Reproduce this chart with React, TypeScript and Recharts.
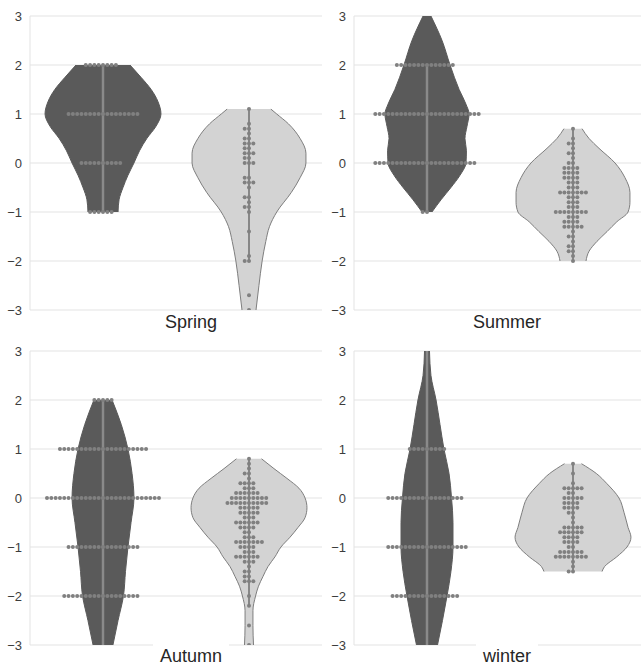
import React from "react";
import { ComposedChart, Area, Scatter, XAxis, YAxis, CartesianGrid, ReferenceLine } from "recharts";

const FONT = "'Liberation Sans', Arial, sans-serif";
const yTicks = [-3, -2, -1, 0, 1, 2, 3];

// violin outlines: value levels and half width (x units, one slot = 1)
const springDarkY = [2, 1.75, 1.5, 1.25, 1, 0.75, 0.5, 0.25, 0, -0.25, -0.5, -0.75, -1];
const springDarkW = [0.185, 0.26, 0.33, 0.377, 0.397, 0.363, 0.3, 0.25, 0.212, 0.171, 0.137, 0.11, 0.103];
const springLightY = [1.1, 1, 0.8, 0.5, 0.2, 0, -0.3, -0.6, -1, -1.3, -1.6, -2, -2.5, -3];
const springLightW = [0.15, 0.19, 0.27, 0.35, 0.39, 0.39, 0.35, 0.29, 0.19, 0.14, 0.115, 0.09, 0.068, 0.048];

const summerDarkY = [3, 2.5, 2, 1.5, 1.2, 1, 0.75, 0.5, 0.25, 0, -0.25, -0.5, -0.75, -1];
const summerDarkW = [0.027, 0.103, 0.158, 0.22, 0.267, 0.288, 0.274, 0.26, 0.27, 0.267, 0.226, 0.164, 0.096, 0.034];
const summerLightY = [0.7, 0.5, 0.3, 0, -0.3, -0.6, -0.8, -1, -1.2, -1.4, -1.6, -1.8, -2];
const summerLightW = [0.062, 0.11, 0.178, 0.288, 0.356, 0.39, 0.39, 0.377, 0.3, 0.233, 0.164, 0.11, 0.089];

const autumnDarkY = [2, 1.5, 1, 0.5, 0, -0.5, -1, -1.5, -2, -2.5, -3];
const autumnDarkW = [0.062, 0.125, 0.171, 0.199, 0.212, 0.192, 0.171, 0.154, 0.14, 0.103, 0.068];
const autumnLightY = [0.8, 0.6, 0.4, 0.2, 0, -0.2, -0.4, -0.6, -0.8, -1, -1.2, -1.4, -1.6, -1.8, -2, -2.3, -2.6, -3];
const autumnLightW = [0.086, 0.171, 0.26, 0.342, 0.384, 0.397, 0.384, 0.336, 0.281, 0.219, 0.178, 0.13, 0.096, 0.065, 0.045, 0.027, 0.027, 0.031];

const winterDarkY = [3, 2.5, 2, 1.5, 1, 0.5, 0, -0.5, -1, -1.5, -2, -2.5, -3];
const winterDarkW = [0.017, 0.027, 0.062, 0.089, 0.116, 0.151, 0.168, 0.178, 0.178, 0.164, 0.137, 0.106, 0.072];
const winterLightY = [0.7, 0.5, 0.3, 0, -0.3, -0.6, -0.8, -1, -1.2, -1.4, -1.5];
const winterLightW = [0.058, 0.16, 0.23, 0.315, 0.35, 0.377, 0.397, 0.37, 0.3, 0.216, 0.199];

// swarm points: observed values and how many at each
const springDarkDotY = [2, 1, 0, -1];
const springDarkDotN = [8, 17, 10, 6];
const springLightDotY = [1.1, 0.8, 0.7, 0.6, 0.5, 0.4, 0.3, 0.2, 0.1, 0, -0.3, -0.4, -0.5, -0.7, -0.8, -0.9, -1, -1.4, -1.9, -2, -2.7, -3];
const springLightDotN = [1, 1, 2, 1, 2, 3, 2, 3, 2, 3, 2, 3, 1, 2, 1, 2, 1, 1, 1, 2, 1, 1];

const summerDarkDotY = [2, 1, 0, -1];
const summerDarkDotN = [14, 25, 24, 2];
const summerLightDotY = [0.7, 0.5, 0.4, 0.3, 0.2, 0.1, 0, -0.1, -0.2, -0.3, -0.4, -0.5, -0.6, -0.7, -0.8, -0.9, -1, -1.1, -1.2, -1.3, -1.4, -1.5, -1.6, -1.7, -1.8, -1.9, -2];
const summerLightDotN = [1, 1, 2, 1, 2, 1, 2, 4, 4, 4, 3, 3, 7, 3, 3, 3, 8, 3, 4, 5, 1, 2, 1, 2, 2, 1, 1];

const autumnDarkDotY = [2, 1, 0, -1, -2];
const autumnDarkDotN = [5, 21, 27, 17, 18];
const autumnLightDotY = [0.8, 0.7, 0.6, 0.5, 0.4, 0.3, 0.2, 0.1, 0, -0.1, -0.2, -0.3, -0.4, -0.5, -0.6, -0.7, -0.8, -0.9, -1, -1.1, -1.2, -1.3, -1.4, -1.5, -1.6, -1.7, -2, -2.2, -2.6, -3];
const autumnLightDotN = [1, 1, 1, 2, 1, 4, 3, 6, 9, 10, 5, 5, 3, 6, 4, 2, 3, 7, 4, 3, 6, 3, 1, 2, 2, 3, 1, 1, 1, 1];

const winterDarkDotY = [1, 0, -1, -2];
const winterDarkDotN = [9, 18, 19, 16];
const winterLightDotY = [0.7, 0.5, 0.3, 0.2, 0.1, 0, -0.1, -0.2, -0.3, -0.4, -0.5, -0.6, -0.7, -0.8, -0.9, -1, -1.1, -1.2, -1.3, -1.4, -1.5];
const winterLightDotN = [1, 1, 1, 5, 2, 5, 4, 4, 2, 1, 1, 5, 6, 4, 4, 2, 6, 8, 1, 1, 2];

// inner whisker extents [top, bottom]
const springDarkWhisker = [2, -1];
const springLightWhisker = [1.1, -2];
const summerDarkWhisker = [2, -1];
const summerLightWhisker = [0.7, -2];
const autumnDarkWhisker = [2, -3];
const autumnLightWhisker = [0.8, -2.2];
const winterDarkWhisker = [3, -3];
const winterLightWhisker = [0.7, -1.5];

type Group = { oy: number[]; ow: number[]; dy: number[]; dn: number[]; wh: number[] };

const DOT_STEP = 0.0295;

function outline(g: Group, c: number) {
  return g.oy.map((y, i) => ({ y, r: [c - g.ow[i], c + g.ow[i]] }));
}

function swarm(g: Group, c: number) {
  const pts: { x: number; y: number }[] = [];
  g.dy.forEach((y, i) => {
    for (let j = 0; j < g.dn[i]; j++) {
      const k = j === 0 ? 0 : j % 2 === 1 ? -Math.ceil(j / 2) : j / 2;
      pts.push({ x: c + k * DOT_STEP, y });
    }
  });
  return pts;
}

const dot = (p: any) => <circle cx={p.cx} cy={p.cy} r={2} fill="#808080" />;

function Panel(props: {
  label: string; dark: Group; light: Group; left: number; top: number;
  axisWidth: number; rightPad: number; labelX: number; labelTop: number; labelPad: number;
}) {
  const { label, dark, light, left, top, axisWidth, rightPad, labelX, labelTop, labelPad } = props;
  return (
    <div style={{ position: "absolute", left, top, width: 330, height: 320 }}>
      <ComposedChart layout="vertical" width={330} height={320} margin={{ top: 16, right: rightPad, bottom: 10, left: 0 }}>
        <CartesianGrid horizontal vertical={false} stroke="#e3e3e3" />
        <XAxis type="number" dataKey="x" domain={[0, 2]} hide allowDataOverflow />
        <YAxis
          type="number"
          dataKey="y"
          domain={[-3, 3]}
          ticks={yTicks}
          interval={0}
          reversed
          allowDataOverflow
          width={axisWidth}
          tickLine={false}
          axisLine={{ stroke: "#e3e3e3" }}
          tick={{ fill: "#3c3c3c", fontSize: 13, fontFamily: FONT }}
          tickFormatter={(v) => String(v).replace("-", "\u2212")}
        />
        <Area data={outline(dark, 0.5)} dataKey="r" type="monotone" fill="#5a5a5a" fillOpacity={1} stroke="#5a5a5a" strokeWidth={1} isAnimationActive={false} />
        <Area data={outline(light, 1.5)} dataKey="r" type="monotone" fill="#d3d3d3" fillOpacity={1} stroke="#7e7e7e" strokeWidth={1} isAnimationActive={false} />
        <ReferenceLine segment={[{ x: 0.5, y: dark.wh[0] }, { x: 0.5, y: dark.wh[1] }]} stroke="#8a8a8a" strokeWidth={2.5} ifOverflow="visible" />
        <ReferenceLine segment={[{ x: 1.5, y: light.wh[0] }, { x: 1.5, y: light.wh[1] }]} stroke="#6e6e6e" strokeWidth={1.5} ifOverflow="visible" />
        <Scatter data={swarm(dark, 0.5)} shape={dot} isAnimationActive={false} />
        <Scatter data={swarm(light, 1.5)} shape={dot} isAnimationActive={false} />
      </ComposedChart>
      <div
        style={{
          position: "absolute",
          left: labelX - left,
          top: labelTop - top,
          transform: "translateX(-50%)",
          background: "#fff",
          padding: `${labelPad}px 7px 0`,
          fontFamily: FONT,
          fontSize: 18,
          lineHeight: "20px",
          color: "#262626",
          whiteSpace: "nowrap",
        }}
      >
        {label}
      </div>
    </div>
  );
}

const spring: [Group, Group] = [
  { oy: springDarkY, ow: springDarkW, dy: springDarkDotY, dn: springDarkDotN, wh: springDarkWhisker },
  { oy: springLightY, ow: springLightW, dy: springLightDotY, dn: springLightDotN, wh: springLightWhisker },
];
const summer: [Group, Group] = [
  { oy: summerDarkY, ow: summerDarkW, dy: summerDarkDotY, dn: summerDarkDotN, wh: summerDarkWhisker },
  { oy: summerLightY, ow: summerLightW, dy: summerLightDotY, dn: summerLightDotN, wh: summerLightWhisker },
];
const autumn: [Group, Group] = [
  { oy: autumnDarkY, ow: autumnDarkW, dy: autumnDarkDotY, dn: autumnDarkDotN, wh: autumnDarkWhisker },
  { oy: autumnLightY, ow: autumnLightW, dy: autumnLightDotY, dn: autumnLightDotN, wh: autumnLightWhisker },
];
const winter: [Group, Group] = [
  { oy: winterDarkY, ow: winterDarkW, dy: winterDarkDotY, dn: winterDarkDotN, wh: winterDarkWhisker },
  { oy: winterLightY, ow: winterLightW, dy: winterLightDotY, dn: winterLightDotN, wh: winterLightWhisker },
];

export default function App() {
  return (
    <div style={{ position: "fixed", left: 0, top: 0, width: 641, height: 667, overflow: "hidden", background: "#fff" }}>
      <Panel label="Spring" dark={spring[0]} light={spring[1]} left={0} top={0} axisWidth={30} rightPad={8} labelX={191} labelTop={312} labelPad={0} />
      <Panel label="Summer" dark={summer[0]} light={summer[1]} left={322} top={0} axisWidth={32} rightPad={6} labelX={507} labelTop={312} labelPad={0} />
      <Panel label="Autumn" dark={autumn[0]} light={autumn[1]} left={0} top={335} axisWidth={30} rightPad={8} labelX={191} labelTop={643} labelPad={3} />
      <Panel label="winter" dark={winter[0]} light={winter[1]} left={322} top={335} axisWidth={32} rightPad={6} labelX={507} labelTop={643} labelPad={3} />
    </div>
  );
}
